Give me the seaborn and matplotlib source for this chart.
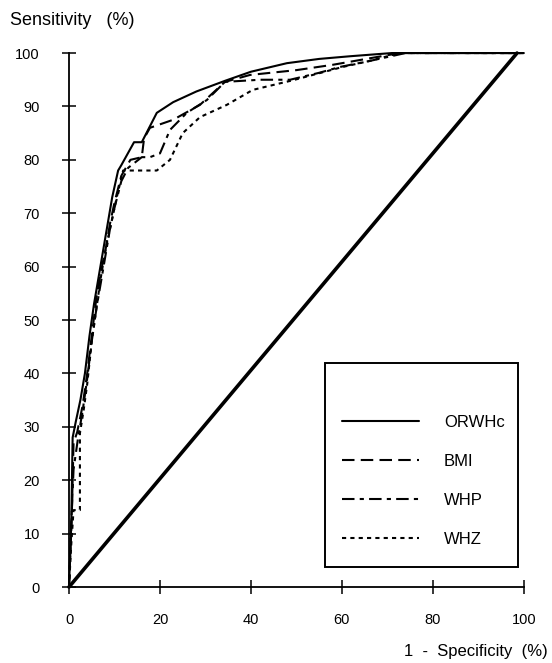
import matplotlib
matplotlib.use("Agg")
import matplotlib.pyplot as plt
import seaborn as sns
import pandas as pd
from matplotlib.patches import Rectangle

sns.set_theme(style="white")
plt.rcParams['font.family'] = ['Liberation Sans', 'DejaVu Sans']

# Data (1 - specificity %, sensitivity %)
orwhc_x = [0, 0.5, 0.8, 1.5, 2.5, 3.5, 4.5, 5.5, 6.5, 7.5, 8.5, 9.5, 10.8, 11.5, 14.3, 16, 19.3, 22.9, 28, 34.3, 40, 47.9, 55, 61.8, 71, 100]
orwhc_y = [0, 12, 28, 31, 35, 40, 47, 53, 58, 63, 68, 73, 78, 79, 83.3, 83.3, 88.8, 90.8, 92.8, 94.8, 96.5, 98.1, 98.9, 99.4, 100, 100]

bmi_x = [0, 0.6, 1, 1.8, 3, 4, 5, 6, 7, 8, 9, 10, 11.5, 13.5, 16, 16.5, 17.8, 22.9, 28.8, 34.3, 39.8, 50, 58, 66, 72.7, 100]
bmi_y = [0, 13, 27, 29, 34, 40, 47, 54, 59, 63, 68, 72, 77, 80, 80.5, 84, 86, 87.5, 90.3, 94.6, 95.9, 96.8, 97.8, 99, 100, 100]

whp_x = [0, 0.5, 1, 2, 3, 4, 5, 6, 7, 8, 9, 10, 11.5, 13, 16, 17.8, 20, 22.2, 25.9, 30.3, 34.3, 42, 48.6, 55, 59.6, 66, 74, 100]
whp_y = [0, 12, 22, 28, 33, 39, 46, 52, 57, 62, 67, 71, 76, 78.5, 80.5, 80.5, 81.2, 85.6, 88.8, 91.2, 94.6, 95, 95, 96.3, 97.4, 98.5, 100, 100]

whz_x = [0, 0.5, 1, 2.4, 2.4, 3.2, 4, 5, 6, 7, 8, 9, 10.5, 11.9, 13.8, 19.3, 22.2, 25, 28.8, 34.7, 40.4, 49.2, 60.2, 66, 72.7, 100]
whz_y = [0, 8, 14.4, 14.4, 28.8, 33, 38, 46, 52, 58, 63, 67, 73, 78, 78, 78, 80, 85, 88, 90.3, 93.1, 94.9, 97.4, 98.5, 100, 100]

diag_x = [0, 98.5]
diag_y = [0, 100]

labels = ["ORWHc", "BMI", "WHP", "WHZ"]
xticks = [0, 20, 40, 60, 80, 100]
yticks = [0, 10, 20, 30, 40, 50, 60, 70, 80, 90, 100]

fig = plt.figure(figsize=(5.52, 6.63), dpi=100)
ax = fig.add_axes([0.125, 0.1146, 0.824, 0.8054])

series = [(orwhc_x, orwhc_y, '-'),
          (bmi_x, bmi_y, (0, (6, 3))),
          (whp_x, whp_y, (0, (6, 2.5, 2, 2.5))),
          (whz_x, whz_y, (0, (2, 2)))]
handles = []
for (xs, ys, ls), lab in zip(series, labels):
    sns.lineplot(x=xs, y=ys, sort=False, estimator=None, color='black',
                 linewidth=1.5, linestyle=ls, ax=ax, clip_on=False)
    handles.append(ax.lines[-1])

sns.lineplot(x=diag_x, y=diag_y, sort=False, estimator=None, color='black',
             linewidth=2.6, ax=ax, clip_on=False)

ax.set_xlim(0, 100)
ax.set_ylim(0, 100)
ax.set_xticks(xticks)
ax.set_yticks(yticks)
ax.set_xticklabels([str(v) for v in xticks])
ax.set_yticklabels([str(v) for v in yticks])
for s in ['top', 'right']:
    ax.spines[s].set_visible(False)
for s in ['left', 'bottom']:
    ax.spines[s].set_color('black')
    ax.spines[s].set_linewidth(1.3)
ax.tick_params(axis='both', direction='inout', length=10, width=1.1,
               colors='black', labelsize=10.5, left=True, bottom=True)
ax.tick_params(axis='x', pad=14)
ax.tick_params(axis='y', pad=16)
ax.set_xlabel("")
ax.set_ylabel("")
ax.grid(False)

fig.text(0.018, 0.969, "Sensitivity   (%)", fontsize=13, ha='left', va='center', color='black')
fig.text(0.993, 0.017, "1  -  Specificity  (%)", fontsize=12, ha='right', va='center', color='black')

# legend box
ax.add_patch(Rectangle((0.563, 0.037), 0.424, 0.382, transform=ax.transAxes,
                       fill=False, edgecolor='black', linewidth=1.4, zorder=5))
leg = ax.legend(handles, labels, loc='upper left', bbox_to_anchor=(0.601, 0.322),
                frameon=False, fontsize=12, handlelength=4.6, handletextpad=1.5,
                labelspacing=1.44, borderpad=0, borderaxespad=0)
for t in leg.get_texts():
    t.set_color('black')

fig.savefig("out.png", dpi=100, facecolor='white')
